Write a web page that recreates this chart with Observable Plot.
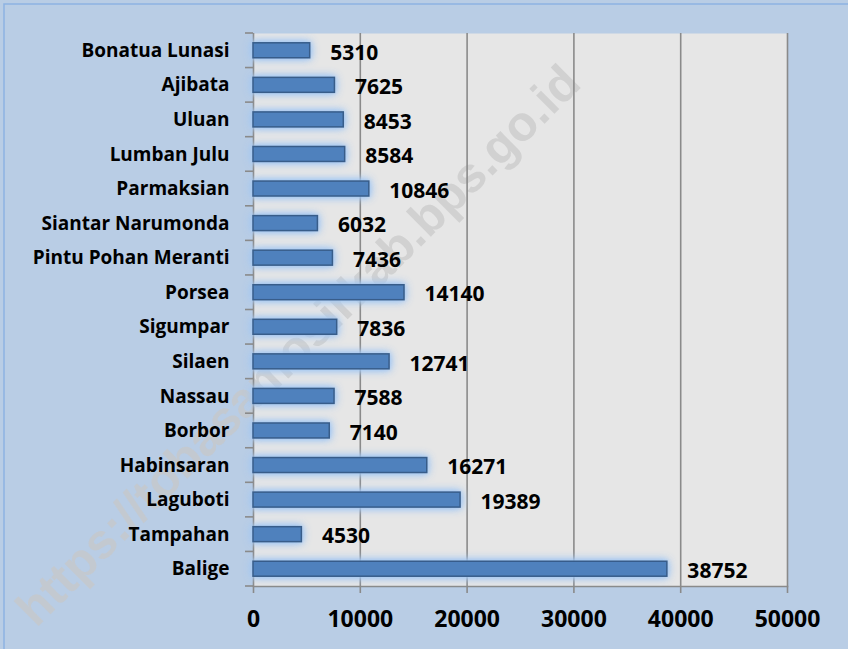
<!DOCTYPE html>
<html><head><meta charset="utf-8">
<script src="https://cdn.jsdelivr.net/npm/d3@7"></script>
<script src="https://cdn.jsdelivr.net/npm/@observablehq/plot@0.6"></script>
<style>body{margin:0;background:#b9cde5;overflow:hidden;}</style>
</head><body><div id="chart"></div>
<script>
const districts = ["Bonatua Lunasi","Ajibata","Uluan","Lumban Julu","Parmaksian","Siantar Narumonda","Pintu Pohan Meranti","Porsea","Sigumpar","Silaen","Nassau","Borbor","Habinsaran","Laguboti","Tampahan","Balige"];
const values = [5310,7625,8453,8584,10846,6032,7436,14140,7836,12741,7588,7140,16271,19389,4530,38752];
const xTicks = [0,10000,20000,30000,40000,50000];
const watermark = ["https://tobasamosirkab.bps.go.id"];
const data = districts.map((d, i) => ({district: d, value: values[i]}));

const font = "'Open Sans', Lato, sans-serif";
const chart = Plot.plot({
  width: 848, height: 649,
  marginLeft: 253, marginRight: 61, marginTop: 33, marginBottom: 63,
  style: {background: "#b9cde5", fontFamily: font, fontWeight: 700, color: "#000", overflow: "visible"},
  x: {domain: [0, 50000], label: null},
  y: {domain: districts, paddingInner: 0.567, paddingOuter: 0.2835, round: false, label: null},
  marks: [
    Plot.frame({fill: "#e6e6e6", stroke: null}),
    Plot.text(watermark, {text: d => d, frameAnchor: "middle", rotate: -44.8, dx: -222, dy: 36, fontSize: 49,
      fontFamily: "'Liberation Sans', Arial, sans-serif", fontWeight: 700, fill: "#c8c8c8", fillOpacity: 0.7}),
    Plot.ruleX(xTicks, {stroke: "#8a8a8a", strokeWidth: 1.6, strokeOpacity: 1}),
    Plot.frame({anchor: "bottom", stroke: "#8a8a8a", strokeWidth: 1.6, strokeOpacity: 1}),
    Plot.axisX({ticks: xTicks, tickFormat: d => String(d), tickSize: 7, tickPadding: 17, fontSize: 23,
      stroke: "#8a8a8a", strokeWidth: 1.6, strokeOpacity: 1, fill: "#000", label: null}),
    Plot.axisY({tickSize: 0, tickPadding: 24, fontSize: 19, fill: "#000", label: null}),
    Plot.barX(data, {x: "value", y: "district", fill: "#4f81bd", stroke: "#385d8a", strokeWidth: 1.5}),
    Plot.text(data, {x: "value", y: "district", text: d => String(d.value), textAnchor: "start",
      dx: 20, dy: 2, fontSize: 21, fontWeight: 700, fill: "#000"})
  ]
});

document.getElementById("chart").appendChild(chart);

const svg = d3.select(chart);
// glow on bars
svg.selectAll('g[aria-label="bar"]').style("filter", "drop-shadow(0 0 4px #98c0f0) drop-shadow(0 0 2px #b0d0f6)");

// category boundary ticks on y axis
const ys = chart.scale("y");
const xs = chart.scale("x");
const x0 = xs.apply(0);
const [r0, r1] = ys.range;
const step = (r1 - r0) / districts.length;
const boundaries = d3.range(districts.length + 1).map(i => r0 + i * step);
const gt = svg.append("g").attr("stroke", "#8a8a8a").attr("stroke-width", 1.6);
gt.selectAll("line").data(boundaries).join("line")
  .attr("x1", x0 - 8).attr("x2", x0).attr("y1", d => d).attr("y2", d => d);

// outer chart border
svg.insert("rect", ":first-child").attr("x", 4).attr("y", 4).attr("width", 860).attr("height", 660)
  .attr("fill", "none").attr("stroke", "#8db3e2").attr("stroke-width", 1.5);
</script>
</body></html>
